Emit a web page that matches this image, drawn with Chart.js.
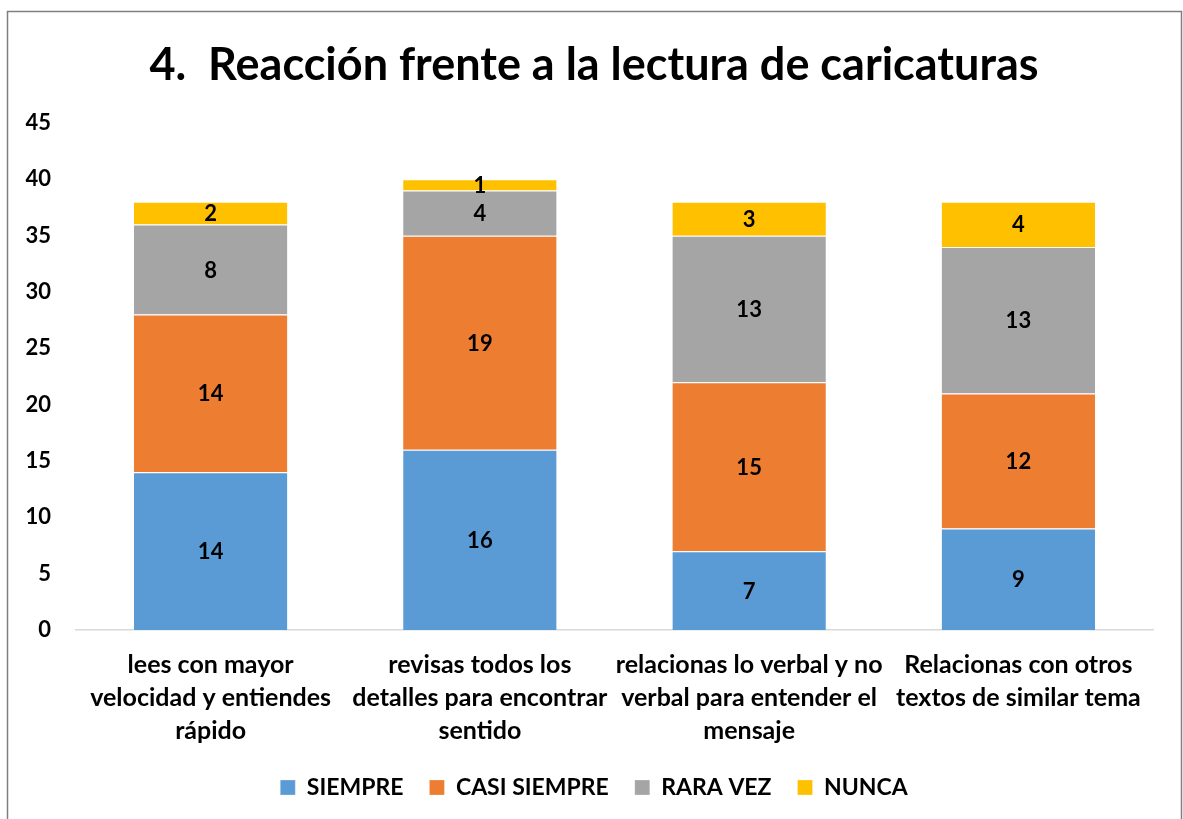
<!DOCTYPE html>
<html>
<head>
<meta charset="utf-8">
<script src="https://cdn.jsdelivr.net/npm/chart.js@4.4.1/dist/chart.umd.min.js"></script>
<style>
  html, body { margin: 0; padding: 0; background: #ffffff; }
  #wrap { position: relative; width: 1183px; height: 819px; }
</style>
</head>
<body>
<div id="wrap"><canvas id="c" width="1183" height="819"></canvas></div>
<script>
const categories = [
  ["lees con mayor", "velocidad y entiendes", "rápido"],
  ["revisas todos los", "detalles para encontrar", "sentido"],
  ["relacionas lo verbal y no", "verbal para entender el", "mensaje"],
  ["Relacionas con otros", "textos de similar tema"]
];
const seriesNames = ["SIEMPRE", "CASI SIEMPRE", "RARA VEZ", "NUNCA"];
const siempre = [14, 16, 7, 9];
const casiSiempre = [14, 19, 15, 12];
const raraVez = [8, 4, 13, 13];
const nunca = [2, 1, 3, 4];
const yTicks = [0, 5, 10, 15, 20, 25, 30, 35, 40, 45];
const colors = ["#5B9BD5", "#ED7D31", "#A5A5A5", "#FFC000"];

const FONT = "Lato, 'Open Sans', sans-serif";
const W = 'bold';

const frame = {
  id: 'frame',
  beforeDraw(chart) {
    const ctx = chart.ctx;
    ctx.save();
    ctx.fillStyle = '#ffffff';
    ctx.fillRect(0, 0, chart.width, chart.height);
    ctx.strokeStyle = '#7f7f7f';
    ctx.lineWidth = 1.5;
    ctx.strokeRect(7.5, 11.5, 1174, 840);
    ctx.restore();
  }
};

const valueLabels = {
  id: 'valueLabels',
  afterDatasetsDraw(chart) {
    const ctx = chart.ctx;
    ctx.save();
    ctx.font = W + " 22px " + FONT;
    ctx.fillStyle = '#000000';
    ctx.textAlign = 'center';
    ctx.textBaseline = 'middle';
    chart.data.datasets.forEach((ds, i) => {
      const meta = chart.getDatasetMeta(i);
      meta.data.forEach((bar, j) => {
        const v = ds.data[j];
        if (!v) return;
        const p = bar.getProps(['x', 'y', 'base'], true);
        ctx.fillText(String(v), p.x, (p.y + p.base) / 2 + 1);
      });
    });
    ctx.restore();
  }
};

const data = {
  labels: categories,
  datasets: [
    { label: seriesNames[0], data: siempre, backgroundColor: colors[0] },
    { label: seriesNames[1], data: casiSiempre, backgroundColor: colors[1] },
    { label: seriesNames[2], data: raraVez, backgroundColor: colors[2] },
    { label: seriesNames[3], data: nunca, backgroundColor: colors[3] }
  ].map(d => Object.assign(d, { borderColor: '#ffffff', borderWidth: { top: 1 }, borderSkipped: false, categoryPercentage: 0.57, barPercentage: 1.0 }))
};

new Chart(document.getElementById('c'), {
  type: 'bar',
  data: data,
  options: {
    responsive: false,
    animation: false,
    devicePixelRatio: 1,
    layout: { padding: { left: 5, right: 0, top: 0, bottom: 10 } },
    plugins: {
      title: {
        display: true,
        text: "4.  Reacción frente a la lectura de caricaturas",
        color: '#000000',
        font: { family: FONT, size: 45, weight: W, lineHeight: 1.2 },
        padding: { top: 38, bottom: 31 }
      },
      legend: {
        display: true,
        position: 'bottom',
        labels: {
          color: '#000000',
          font: { family: FONT, size: 23, weight: W },
          boxWidth: 15,
          boxHeight: 15,
          padding: 26
        }
      },
      tooltip: { enabled: false }
    },
    scales: {
      x: {
        stacked: true,
        grid: { display: false, drawTicks: false },
        border: { display: true, color: '#D9D9D9', width: 1.5 },
        ticks: {
          color: '#000000',
          font: { family: FONT, size: 25, weight: W, lineHeight: 1.32 },
          padding: 18,
          maxRotation: 0,
          autoSkip: false
        },
        afterFit(scale) { scale.height = 120; }
      },
      y: {
        stacked: true,
        min: 0,
        max: 45,
        afterBuildTicks(scale) { scale.ticks = yTicks.map(v => ({ value: v })); },
        grid: { display: false, drawTicks: false },
        border: { display: false },
        ticks: {
          color: '#000000',
          font: { family: FONT, size: 22, weight: W },
          padding: 25
        },
        afterFit(scale) { scale.width = 71; }
      },
      yRight: {
        position: 'right',
        min: 0,
        max: 45,
        grid: { display: false, drawTicks: false },
        border: { display: false },
        ticks: { display: false },
        afterFit(scale) { scale.width = 30; }
      }
    }
  },
  plugins: [frame, valueLabels]
});
</script>
</body>
</html>
